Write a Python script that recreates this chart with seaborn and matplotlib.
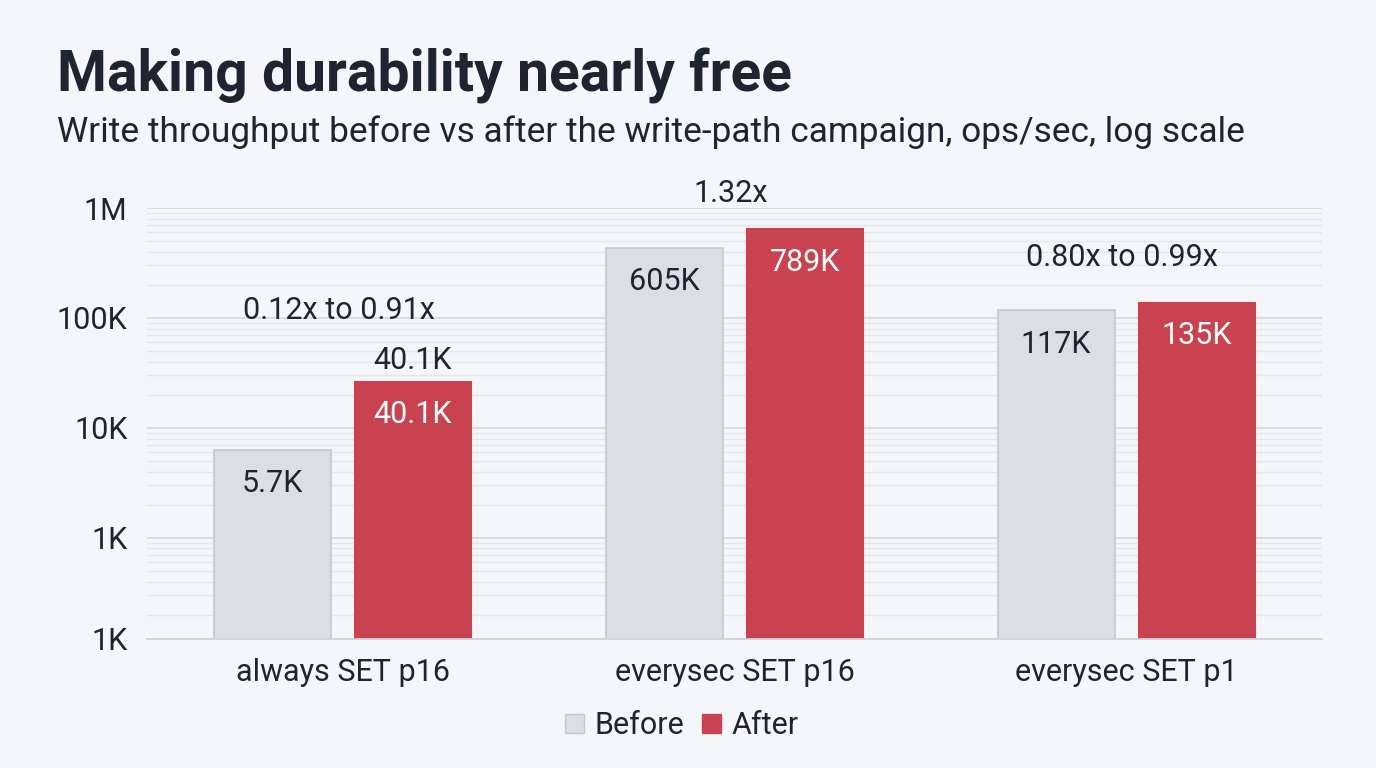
import matplotlib
matplotlib.use("Agg")
import matplotlib.pyplot as plt
import seaborn as sns
import pandas as pd
from matplotlib.patches import Patch
from matplotlib.ticker import LogLocator, NullFormatter

# data
categories = ["always SET p16", "everysec SET p16", "everysec SET p1"]
phases = ["Before", "After"]
before_ops = [6300, 433000, 118000]
after_ops = [26700, 658000, 140000]
before_labels = ["5.7K", "605K", "117K"]
after_labels = ["40.1K", "789K", "135K"]
above_labels = ["40.1K", "", ""]
ratio_labels = ["0.12x to 0.91x", "1.32x", "0.80x to 0.99x"]
y_ticks = [120, 1e3, 1e4, 1e5, 1e6]
y_tick_labels = ["1K", "1K", "10K", "100K", "1M"]

BG = "#f4f6f9"
TEXT = "#1f2431"
GREY = "#dcdee4"
RED = "#c9424f"
FS = 22

df = pd.DataFrame({
    "config": categories * 2,
    "phase": ["Before"] * 3 + ["After"] * 3,
    "ops": before_ops + after_ops,
})

sns.set_theme(style="white")
plt.rcParams["font.family"] = ["Roboto", "DejaVu Sans"]

fig = plt.figure(figsize=(13.76, 7.68), dpi=100, facecolor=BG)
ax = fig.add_axes([147 / 1376, 129 / 768, 1175 / 1376, 431 / 768])
ax.set_facecolor(BG)

sns.barplot(data=df, x="config", y="ops", hue="phase", hue_order=phases,
            palette={"Before": GREY, "After": RED}, width=0.716, gap=0.165,
            saturation=1, legend=False, ax=ax)
ax.set_yscale("log")

for bar in ax.containers[0]:
    bar.set_edgecolor("#c5c8ce")
    bar.set_linewidth(1.2)
for bar in ax.containers[1]:
    bar.set_edgecolor(RED)
    bar.set_linewidth(0.8)

ax.set_ylim(120, 1e6)
ax.set_xlim(-0.5, 2.5)
ax.set_yticks(y_ticks)
ax.set_yticklabels(y_tick_labels)
ax.yaxis.set_minor_locator(LogLocator(base=10, subs=range(2, 10), numticks=50))
ax.yaxis.set_minor_formatter(NullFormatter())
ax.tick_params(axis="y", which="both", length=0, pad=14, labelsize=FS, labelcolor=TEXT)
ax.tick_params(axis="x", length=0, pad=14, labelsize=FS, labelcolor=TEXT)
ax.set_xlabel("")
ax.set_ylabel("")
ax.set_axisbelow(True)
ax.grid(which="major", axis="y", color="#d8dadf", lw=1.3)
ax.grid(which="minor", axis="y", color="#e4e6ea", lw=1.0)
for side in ["top", "right", "left"]:
    ax.spines[side].set_visible(False)
ax.spines["bottom"].set_color("#cfd2d8")
ax.spines["bottom"].set_linewidth(1.3)

# value labels inside bars
for container, labels, color in [(ax.containers[0], before_labels, TEXT),
                                 (ax.containers[1], after_labels, "white")]:
    for bar, lab in zip(container, labels):
        ax.annotate(lab, (bar.get_x() + bar.get_width() / 2, bar.get_height()),
                    xytext=(0, -24.5), textcoords="offset points",
                    ha="center", va="center", fontsize=FS, color=color)

for bar, lab in zip(ax.containers[1], above_labels):
    if lab:
        ax.annotate(lab, (bar.get_x() + bar.get_width() / 2, bar.get_height()),
                    xytext=(0, 15), textcoords="offset points",
                    ha="center", va="center", fontsize=FS, color=TEXT)

ratio_offsets = [51, 25, 32]
for i, (lab, off) in enumerate(zip(ratio_labels, ratio_offsets)):
    top = max(before_ops[i], after_ops[i])
    ax.annotate(lab, (i - 0.01, top), xytext=(0, off), textcoords="offset points",
                ha="center", va="center", fontsize=FS, color=TEXT,
                annotation_clip=False)

fig.text(57 / 1376, 1 - 92 / 768, "Making durability nearly free",
         fontsize=41, fontweight="semibold", color=TEXT, va="baseline")
fig.text(57 / 1376, 1 - 142 / 768,
         "Write throughput before vs after the write-path campaign, ops/sec, log scale",
         fontsize=25.4, color=TEXT, va="baseline")

handles = [Patch(facecolor=GREY, edgecolor="#c5c8ce"), Patch(facecolor=RED, edgecolor=RED)]
fig.legend(handles, phases, loc="center", bbox_to_anchor=(682 / 1376, 42 / 768),
           ncol=2, frameon=False, fontsize=FS, handlelength=0.6, handleheight=0.6,
           handletextpad=0.35, columnspacing=0.6, labelcolor=TEXT)

fig.savefig("out.png", dpi=100, facecolor=BG)
